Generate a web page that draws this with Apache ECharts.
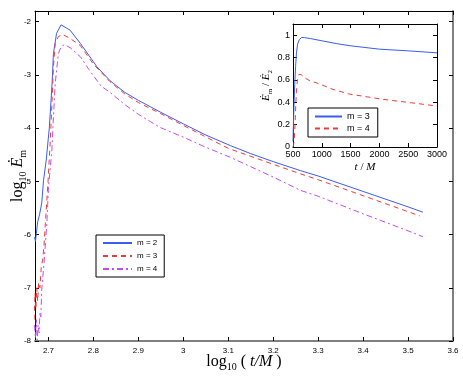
<!DOCTYPE html>
<html>
<head>
<meta charset="utf-8">
<script src="https://cdn.jsdelivr.net/npm/echarts@6/dist/echarts.min.js"></script>
<style>
  html, body { margin: 0; padding: 0; background: #fff; }
</style>
</head>
<body>
<div id="main" style="width: 463px; height: 376px;"></div>
<script type="text/javascript">
// main plot: log10(t/M) vs log10 Edot_m
var m2LogT = [2.669, 2.671, 2.673, 2.676, 2.680, 2.685, 2.689, 2.695, 2.702, 2.708, 2.711, 2.718, 2.728, 2.748, 2.771, 2.808, 2.837, 2.870, 2.900, 2.927, 2.949, 3.000, 3.050, 3.105, 3.150, 3.200, 3.261, 3.300, 3.400, 3.500, 3.533];
var m2Val  = [-6.05, -6.13, -5.98, -5.76, -5.63, -5.41, -4.98, -4.60, -3.98, -3.16, -2.60, -2.22, -2.06, -2.16, -2.41, -2.85, -3.11, -3.33, -3.48, -3.60, -3.70, -3.92, -4.13, -4.33, -4.48, -4.63, -4.80, -4.90, -5.19, -5.48, -5.58];

var m3LogT = [2.668, 2.670, 2.672, 2.674, 2.676, 2.678, 2.681, 2.684, 2.687, 2.690, 2.693, 2.696, 2.699, 2.704, 2.708, 2.711, 2.715, 2.722, 2.731, 2.745, 2.770, 2.800, 2.837, 2.870, 2.900, 2.950, 3.000, 3.100, 3.200, 3.261, 3.300, 3.400, 3.500, 3.526];
var m3Val  = [-7.6, -7.1, -7.4, -7.0, -7.25, -6.9, -7.0, -6.6, -6.48, -6.2, -5.8, -5.4, -5.0, -4.23, -3.48, -2.85, -2.41, -2.28, -2.24, -2.30, -2.44, -2.80, -3.13, -3.36, -3.52, -3.73, -3.95, -4.38, -4.68, -4.86, -4.97, -5.27, -5.57, -5.65];

var m4LogT = [2.669, 2.671, 2.673, 2.675, 2.677, 2.679, 2.681, 2.683, 2.685, 2.690, 2.6964, 2.700, 2.704, 2.7076, 2.711, 2.715, 2.722, 2.728, 2.736, 2.750, 2.771, 2.790, 2.817, 2.837, 2.870, 2.900, 2.927, 2.949, 3.000, 3.050, 3.105, 3.200, 3.261, 3.300, 3.400, 3.500, 3.533];
var m4Val  = [-7.7, -7.95, -7.6, -7.98, -7.7, -7.85, -7.47, -7.55, -7.04, -6.54, -5.79, -5.10, -4.75, -4.41, -3.79, -3.16, -2.60, -2.47, -2.43, -2.50, -2.66, -2.90, -3.21, -3.33, -3.56, -3.74, -3.88, -3.99, -4.17, -4.36, -4.55, -4.92, -5.17, -5.28, -5.61, -5.93, -6.04];

// inset: t/M vs Edot_m / Edot_2
var r3T   = [500, 505, 510, 520, 530, 545, 560, 580, 610, 650, 700, 800, 1000, 1250, 1500, 2000, 2500, 3000];
var r3Val = [0.05, 0.15, 0.25, 0.42, 0.56, 0.72, 0.84, 0.92, 0.96, 0.98, 0.978, 0.97, 0.95, 0.925, 0.905, 0.875, 0.86, 0.842];
var r4T   = [500, 510, 520, 530, 540, 550, 560, 575, 590, 605, 620, 650, 700, 800, 906, 1000, 1194, 1484, 2064, 2642, 3000];
var r4Val = [0.0, 0.02, 0.06, 0.14, 0.26, 0.40, 0.50, 0.59, 0.63, 0.65, 0.655, 0.645, 0.62, 0.59, 0.574, 0.555, 0.515, 0.473, 0.426, 0.39, 0.366];

var xTicks = [2.7, 2.8, 2.9, 3, 3.1, 3.2, 3.3, 3.4, 3.5, 3.6];
var yTicks = [-8, -7, -6, -5, -4, -3, -2];
var insetXTicks = [500, 1000, 1500, 2000, 2500, 3000];
var insetYTicks = [0, 0.2, 0.4, 0.6, 0.8, 1];

function pairs(xs, ys) {
    var out = [];
    for (var i = 0; i < xs.length; i++) out.push([xs[i], ys[i]]);
    return out;
}

var blue = '#3a5cf0', red = '#f03a3a', purple = '#c04cf0';
var sans = 'Liberation Sans', serif = 'Liberation Serif';

// rich text for math-ish labels
function mathRich(size, sub) {
    return {
        n: { fontFamily: serif, fontSize: size, lineHeight: size, verticalAlign: 'top', color: '#000' },
        i: { fontFamily: serif, fontStyle: 'italic', fontSize: size, lineHeight: size, verticalAlign: 'top', color: '#000' },
        s: { fontFamily: serif, fontSize: sub, lineHeight: sub, verticalAlign: 'top', padding: [Math.round(size * 0.5), 0, 0, 0], color: '#000' }
    };
}

function plain(v) { return String(v); }

function frameAxis(grid, pos, min, max, ticks, dark, extra) {
    var ax = {
        gridIndex: grid, type: 'value', position: pos, min: min, max: max,
        axisLine: { show: true, onZero: false, lineStyle: { color: dark ? '#000' : '#808080', width: dark ? 1 : 2 } },
        axisTick: { show: true, inside: true, length: 4, customValues: ticks, lineStyle: { color: '#000' } },
        axisLabel: { show: false },
        splitLine: { show: false }
    };
    for (var k in extra) ax[k] = extra[k];
    return ax;
}

var myChart = echarts.init(document.getElementById('main'), null, { renderer: 'canvas' });

var option = {
    backgroundColor: '#fff',
    animation: false,
    grid: [
        { left: 35, top: 11, width: 418, height: 330, outerBoundsMode: 'none', containLabel: false },
        { left: 293, top: 24, width: 144, height: 123, outerBoundsMode: 'none', containLabel: false,
          show: true, backgroundColor: '#fff', borderWidth: 0 }
    ],
    legend: [
        {
            left: 96, top: 235, orient: 'vertical',
            data: ['m = 2', 'm = 3', 'm = 4'],
            itemWidth: 29, itemHeight: 10, itemGap: 5,
            padding: [4, 7, 4, 6],
            borderColor: '#000', borderWidth: 1, borderRadius: 0,
            backgroundColor: '#fff', selectedMode: false,
            itemStyle: { opacity: 0 },
            textStyle: { fontFamily: sans, fontSize: 8, color: '#000' }
        },
        {
            left: 308, top: 108, orient: 'vertical',
            data: ['inset m = 3', 'inset m = 4'],
            formatter: function (n) { return n.replace('inset ', ''); },
            itemWidth: 27, itemHeight: 9, itemGap: 3,
            padding: [4, 8, 4, 6],
            borderColor: '#000', borderWidth: 1, borderRadius: 0,
            backgroundColor: '#fff', selectedMode: false,
            itemStyle: { opacity: 0 },
            textStyle: { fontFamily: sans, fontSize: 9, color: '#000' }
        }
    ],
    xAxis: [
        frameAxis(0, 'bottom', 2.67, 3.6, xTicks, false, {
            axisLabel: { show: true, customValues: xTicks, formatter: plain, fontFamily: sans, fontSize: 8, color: '#000', margin: 6 },
            name: '{n|log}{s|10}{n| ( }{i|t/M}{n| )}',
            nameLocation: 'middle', nameGap: 13, nameMoveOverlap: false,
            nameTextStyle: { rich: mathRich(16, 10) }
        }),
        frameAxis(0, 'top', 2.67, 3.6, xTicks, true, {}),
        frameAxis(1, 'bottom', 500, 3000, insetXTicks, true, {
            axisLabel: { show: true, customValues: insetXTicks, formatter: plain, fontFamily: sans, fontSize: 9, color: '#000', margin: 3 },
            name: '{i|t}{n| / }{i|M}',
            nameLocation: 'middle', nameGap: 15,
            nameTextStyle: { rich: mathRich(11, 8) }
        }),
        frameAxis(1, 'top', 500, 3000, insetXTicks, true, {})
    ],
    yAxis: [
        frameAxis(0, 'left', -8, -1.8, yTicks, true, {
            axisLabel: { show: true, customValues: yTicks, formatter: plain, fontFamily: sans, fontSize: 8, color: '#000', margin: 4 },
            name: '{n|log}{s|10}{n| }{i|Ė}{s|m}',
            nameLocation: 'middle', nameGap: 9, nameRotate: 90, nameMoveOverlap: false,
            nameTextStyle: { rich: mathRich(16, 10) }
        }),
        frameAxis(0, 'right', -8, -1.8, yTicks, false, {}),
        frameAxis(1, 'left', 0, 1.1, insetYTicks, true, {
            axisLabel: { show: true, customValues: insetYTicks, formatter: plain, fontFamily: sans, fontSize: 9, color: '#000', margin: 3 },
            name: '{i|Ė}{s|m}{n| / }{i|Ė}{s|2}',
            nameLocation: 'middle', nameGap: 20, nameRotate: 90,
            nameTextStyle: { rich: mathRich(11, 7) }
        }),
        frameAxis(1, 'right', 0, 1.1, insetYTicks, true, {})
    ],
    series: [
        {
            name: 'm = 2', type: 'line', xAxisIndex: 0, yAxisIndex: 0,
            data: pairs(m2LogT, m2Val), symbol: 'none',
            lineStyle: { color: blue, width: 1 }, itemStyle: { color: blue }
        },
        {
            name: 'm = 3', type: 'line', xAxisIndex: 0, yAxisIndex: 0,
            data: pairs(m3LogT, m3Val), symbol: 'none',
            lineStyle: { color: red, width: 1, type: [5, 4] }, itemStyle: { color: red }
        },
        {
            name: 'm = 4', type: 'line', xAxisIndex: 0, yAxisIndex: 0,
            data: pairs(m4LogT, m4Val), symbol: 'none',
            lineStyle: { color: purple, width: 1, type: [6, 3, 2, 3] }, itemStyle: { color: purple }
        },
        {
            name: 'inset m = 3', type: 'line', xAxisIndex: 2, yAxisIndex: 2,
            data: pairs(r3T, r3Val), symbol: 'none',
            lineStyle: { color: blue, width: 1 }, itemStyle: { color: blue }
        },
        {
            name: 'inset m = 4', type: 'line', xAxisIndex: 2, yAxisIndex: 2,
            data: pairs(r4T, r4Val), symbol: 'none',
            lineStyle: { color: red, width: 1, type: [5, 4] }, itemStyle: { color: red }
        }
    ]
};

myChart.setOption(option);
</script>
</body>
</html>
